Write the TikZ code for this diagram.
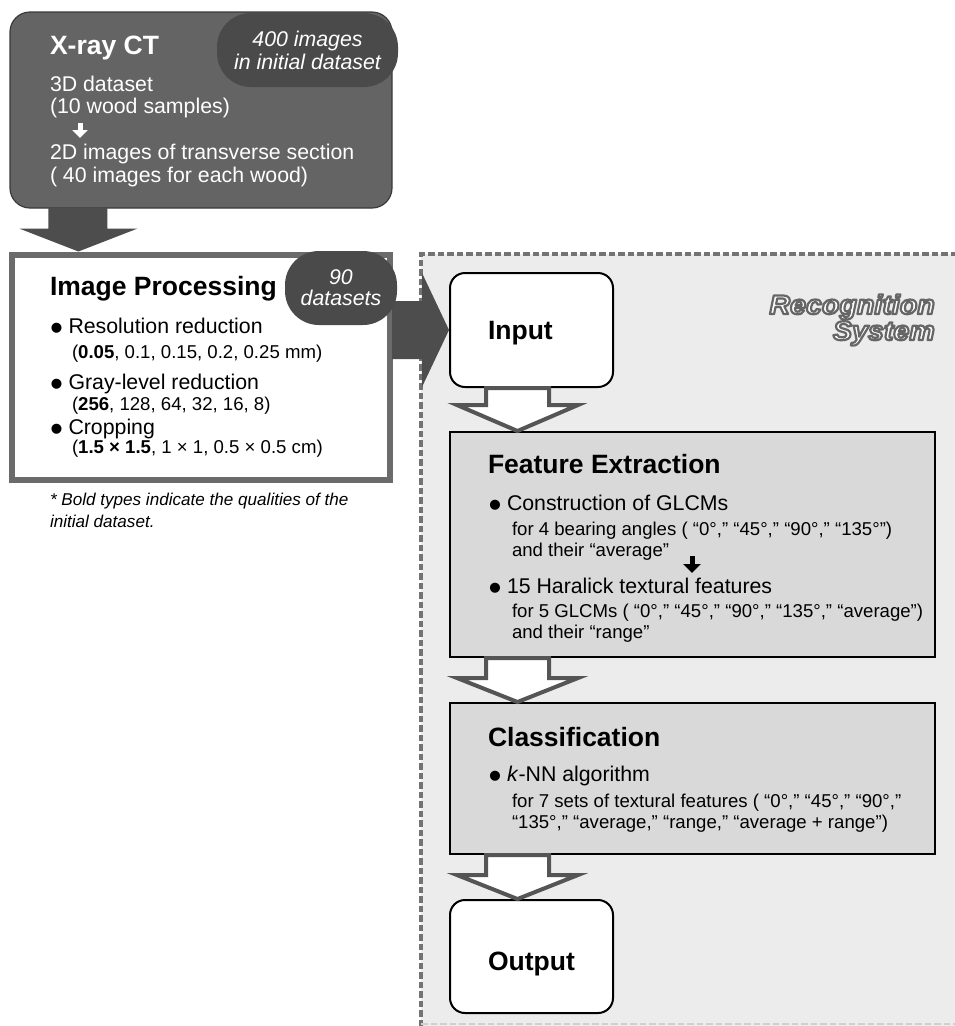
\documentclass[tikz,border=0pt]{standalone}
\usepackage{fontspec}
\setmainfont{Liberation Sans}
\newfontfamily\recfont[FakeStretch=1.06]{Liberation Sans}
\usetikzlibrary{calc,arrows.meta}
\definecolor{xfill}{HTML}{646464}
\definecolor{xborder}{HTML}{3A3A3A}
\definecolor{bubfill}{HTML}{4A4A4A}
\definecolor{arrfill}{HTML}{4D4D4D}
\definecolor{ipborder}{HTML}{6B6B6B}
\definecolor{regfill}{HTML}{EBECEB}
\definecolor{dashgray}{HTML}{737373}
\definecolor{lightdash}{HTML}{D0D0D0}
\definecolor{stagefill}{HTML}{D9D9D9}
\definecolor{hollowgray}{HTML}{555555}
\newcommand\ttlfnt{\fontsize{26.5}{30}\selectfont\bfseries}
\newcommand\bodyfnt{\fontsize{21.3}{23}\selectfont}
\newcommand\smallfnt{\fontsize{18.6}{21}\selectfont}
\newcommand\notefnt{\fontsize{17.1}{22}\selectfont\itshape}
\newcommand\bubfnt{\fontsize{21.3}{23}\selectfont\itshape}
\newcommand\recfnt{\fontsize{27}{29}\recfont\bfseries\itshape}
\newcommand\outlined{\special{pdf:literal direct 0.40 G 2.2 w 1 j 2 Tr}}
\newcommand\mybul{\makebox[18.5pt][l]{\raisebox{-7pt}{\fontsize{37}{37}\selectfont •}}}
\tikzset{
  txt/.style={inner sep=0pt, outer sep=0pt, anchor=base west},
  xbox/.style={draw=xborder, line width=1.2pt, fill=xfill, rounded corners=20pt, inner sep=0pt},
  bubble/.style={fill=bubfill, rounded corners=34pt, text=white, font=\bubfnt, align=center, inner sep=0pt},
  ipbox/.style={draw=ipborder, line width=6pt, fill=white, inner sep=0pt},
  iobox/.style={draw=black, line width=2pt, fill=white, rounded corners=15pt, inner sep=0pt, font=\ttlfnt, text height=19.5pt, text depth=0pt},
  stagebox/.style={draw=black, line width=2pt, fill=stagefill, inner sep=0pt},
  bigarrow/.style={fill=arrfill},
  hollow/.style={draw=hollowgray, line width=4pt, fill=white, line join=miter},
  whitearr/.style={draw=white, line width=5pt, -{Triangle[width=15pt,length=8pt]}},
  blackarr/.style={draw=black, line width=5pt, -{Triangle[width=17pt,length=9pt]}},
  regdash/.style={draw=dashgray, line width=3.5pt, dash pattern=on 6.5pt off 3pt},
  reclabel/.style={inner sep=0pt, anchor=base east, text=white, font=\recfnt},
}
\begin{document}
\begin{tikzpicture}[x=1pt,y=-1pt]
\useasboundingbox (0,0) rectangle (955,1026);
% recognition region
\fill[regfill] (421,254) rectangle (960,1030);
\draw[regdash] (421,1026) -- (421,254) -- (955,254);
\draw[draw=lightdash, line width=2pt, dash pattern=on 6.5pt off 3pt] (421,1024) -- (955,1024);

% X-ray CT
\node[xbox, minimum width=382pt, minimum height=196pt] (xray) at (201,110) {};
\node[bubble, minimum width=181pt, minimum height=74pt] (b400) at (307.5,50) {400 images\\in initial dataset};
\node[txt, font=\ttlfnt, text=white] (xtitle) at (50,54) {X-ray CT};
\node[txt, font=\bodyfnt, text=white] (x1) at (50,91) {3D dataset};
\node[txt, font=\bodyfnt, text=white] (x2) at (50,113) {(10 wood samples)};
\node[txt, font=\bodyfnt, text=white] (x3) at (50,159) {2D images of transverse section};
\node[txt, font=\bodyfnt, text=white] (x4) at (50,182) {( 40 images for each wood)};
\coordinate (wa1) at (80,123);
\coordinate (wa2) at (80,138);
\draw[whitearr] (wa1) -- (wa2);

% Image processing
\node[ipbox, minimum width=378.5pt, minimum height=225.5pt] (improc) at (200.75,367.25) {};
\path (xray.south west) ++(69,0) coordinate (a1s);
\coordinate (a1t) at (a1s |- improc.north);
\fill[bigarrow] ($(a1s)+(-30,-1)$) -- ($(a1s)+(29,-1)$) -- ($(a1s)+(29,20)$) -- ($(a1s)+(59,20)$) -- (a1t) -- ($(a1s)+(-59,20)$) -- ($(a1s)+(-30,20)$) -- cycle;
\node[txt, font=\ttlfnt] (iptitle) at (50,295) {Image Processing};
\node[txt, font=\bodyfnt] (ip1) at (50,333) {\mybul Resolution reduction};
\node[txt, font=\smallfnt] (ip1s) at (72,358) {(\textbf{0.05}, 0.1, 0.15, 0.2, 0.25 mm)};
\node[txt, font=\bodyfnt] (ip2) at (50,389) {\mybul Gray-level reduction};
\node[txt, font=\smallfnt] (ip2s) at (72,410) {(\textbf{256}, 128, 64, 32, 16, 8)};
\node[txt, font=\bodyfnt] (ip3) at (50,434) {\mybul Cropping};
\node[txt, font=\smallfnt] (ip3s) at (72,453) {(\textbf{1.5 × 1.5}, 1 × 1, 0.5 × 0.5 cm)};
\node[txt, font=\notefnt] (note1) at (50,505) {* Bold types indicate the qualities of the};
\node[txt, font=\notefnt] (note2) at (50,527) {initial dataset.};

% Input
\node[iobox, minimum width=163pt, minimum height=114pt] (input) at (531.5,330) {\makebox[87pt][l]{Input}};
\coordinate (a2s) at (improc.east |- input.west);
\fill[bigarrow] ($(a2s)+(-1,-29)$) -- ($(input.west)+(-27,-29)$) -- ($(input.west)+(-27,-57)$) -- (input.west) -- ($(input.west)+(-27,57)$) -- ($(input.west)+(-27,29)$) -- ($(a2s)+(-1,29)$) -- cycle;
\node[bubble, minimum width=112pt, minimum height=74pt, font=\fontsize{21.3}{21}\selectfont\itshape] (b90) at (341,288) {90\\datasets};

% Feature extraction
\node[stagebox, minimum width=485pt, minimum height=225pt] (fe) at (692.5,544.5) {};
\node[txt, font=\ttlfnt] (fetitle) at (488,473) {Feature Extraction};
\node[txt, font=\bodyfnt] (fe1) at (488.5,510) {\mybul Construction of GLCMs};
\node[txt, font=\smallfnt] (fe1a) at (512,535) {for 4 bearing angles ( “0°,” “45°,” “90°,” “135°”)};
\node[txt, font=\smallfnt] (fe1b) at (512,556) {and their “average”};
\coordinate (ba1) at (692,556);
\coordinate (ba2) at (692,573);
\draw[blackarr] (ba1) -- (ba2);
\node[txt, font=\bodyfnt] (fe2) at (488.5,593) {\mybul 15 Haralick textural features};
\node[txt, font=\smallfnt] (fe2a) at (512,617) {for 5 GLCMs ( “0°,” “45°,” “90°,” “135°,” “average”)};
\node[txt, font=\smallfnt] (fe2b) at (512,638) {and their “range”};

% Classification
\node[stagebox, minimum width=485pt, minimum height=151pt] (cls) at (692.5,778.5) {};
\node[txt, font=\ttlfnt] (clstitle) at (488,746) {Classification};
\node[txt, font=\bodyfnt] (cls1) at (488.5,781) {\mybul \textit{k}-NN algorithm};
\node[txt, font=\smallfnt] (cls1a) at (512,807) {for 7 sets of textural features ( “0°,” “45°,” “90°,”};
\node[txt, font=\smallfnt] (cls1b) at (512,828) {“135°,” “average,” “range,” “average + range”)};

% Output
\node[iobox, minimum width=163pt, minimum height=113pt] (output) at (531.5,956.5) {\makebox[87pt][l]{\raisebox{-4pt}{Output}}};

% hollow arrows
\coordinate (acol) at (517.5,0);
\path (acol |- input.south) coordinate (h1s) (acol |- fe.north) coordinate (h1e);
\path (acol |- fe.south) coordinate (h2s) (acol |- cls.north) coordinate (h2e);
\path (acol |- cls.south) coordinate (h3s) (acol |- output.north) coordinate (h3e);
\draw[hollow] ($(h1s)+(-31.5,0)$) -- ($(h1e)+(-31.5,-26)$) -- ($(h1e)+(-60.5,-26)$) -- (h1e) -- ($(h1e)+(60.5,-26)$) -- ($(h1e)+(31.5,-26)$) -- ($(h1s)+(31.5,0)$) -- cycle;
\draw[hollow] ($(h2s)+(-31.5,0)$) -- ($(h2e)+(-31.5,-24)$) -- ($(h2e)+(-60.5,-24)$) -- (h2e) -- ($(h2e)+(60.5,-24)$) -- ($(h2e)+(31.5,-24)$) -- ($(h2s)+(31.5,0)$) -- cycle;
\draw[hollow] ($(h3s)+(-31.5,0)$) -- ($(h3e)+(-31.5,-24)$) -- ($(h3e)+(-60.5,-24)$) -- (h3e) -- ($(h3e)+(60.5,-24)$) -- ($(h3e)+(31.5,-24)$) -- ($(h3s)+(31.5,0)$) -- cycle;

% Recognition System label
\node[reclabel] (rec1) at (935,314) {\outlined Recognition};
\node[reclabel] (rec2) at (935,340) {\outlined System};
\end{tikzpicture}
\end{document}
